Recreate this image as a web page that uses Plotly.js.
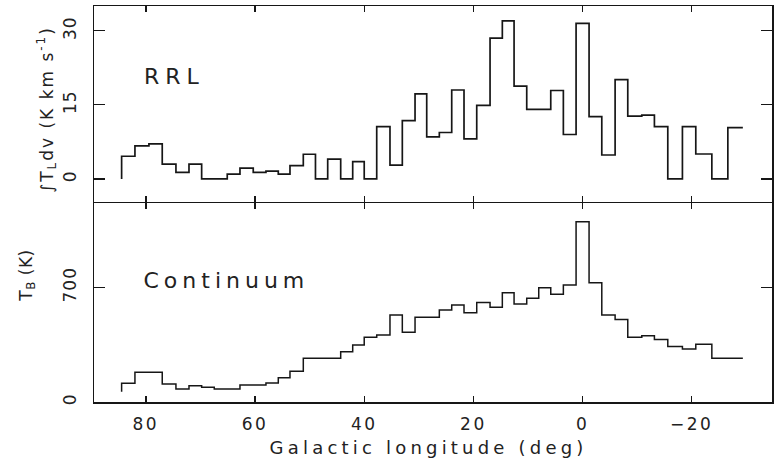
<!DOCTYPE html>
<html>
<head>
<meta charset="utf-8">
<script src="https://cdn.plot.ly/plotly-3.0.1.min.js"></script>
<style>
  html, body { margin: 0; padding: 0; background: #fff; }
  #chart { width: 779px; height: 467px; }
  .xtick text { letter-spacing: 2.5px; }
  .ytick text, .y2tick text { letter-spacing: 1px; }
  .annotation[data-index="0"] text { letter-spacing: 6px; }
  .annotation[data-index="1"] text { letter-spacing: 5px; }
  .annotation[data-index="2"] text { letter-spacing: 4.2px; }
  .annotation[data-index="3"] text { letter-spacing: 2px; }
  .annotation[data-index="4"] text { letter-spacing: 0.5px; }
</style>
</head>
<body>
<div id="chart"></div>
<script>
// Galactic longitude bin edges (deg), running from high to low longitude
const binEdges = [84.44, 82.0, 79.44, 77.0, 74.49, 72.1, 69.78, 67.47, 65.09, 62.76,
  60.33, 58.0, 55.74, 53.6, 51.16, 48.93, 46.69, 44.31, 42.11, 40.0,
  37.71, 35.28, 33.02, 30.69, 28.55, 26.24, 23.97, 21.72, 19.39, 16.95,
  14.7, 12.55, 10.23, 8.03, 5.83, 3.52, 1.19, -1.19, -3.52, -5.96,
  -8.28, -10.85, -13.16, -15.61, -18.29, -20.74, -23.68, -26.61, -29.36];

// Integrated recombination-line intensity per bin (K km s^-1)
const rrlValues = [4.6, 6.7, 7.1, 3.0, 1.35, 3.0, 0, 0, 1.0, 2.2,
  1.35, 1.6, 1.0, 2.7, 5.0, 0, 4.0, 0, 3.5, 0,
  10.6, 2.8, 11.8, 17.2, 8.5, 9.4, 18.0, 8.1, 14.9, 28.5,
  32.0, 18.8, 14.1, 14.1, 17.9, 9.0, 31.5, 12.6, 4.85, 20.1,
  12.7, 12.9, 10.6, 0, 10.6, 5.05, 0, 10.4];

// Continuum brightness temperature per bin (K)
const contValues = [114, 181, 181, 110, 79, 99, 90, 79, 79, 104,
  104, 116, 148, 187, 267, 267, 267, 307, 348, 395,
  409, 531, 425, 517, 517, 561, 592, 545, 608, 578,
  667, 598, 633, 698, 657, 714, 1100, 728, 531, 504,
  395, 405, 382, 338, 323, 352, 267, 267];

// Level each histogram starts from at its first edge
const rrlStart = 0;
const contStart = 62;

const xTicks = [80, 60, 40, 20, 0, -20];
const rrlTicks = [0, 15, 30];
const contTicks = [0, 700];

// Build step outlines: start level, then one step per bin, closing at the last edge
function stepTrace(start, values) {
  const x = [binEdges[0]].concat(binEdges);
  const y = [start].concat(values, [values[values.length - 1]]);
  return { x, y };
}

const ink = '#161616';
const fontFam = 'DejaVu Sans, Liberation Sans, sans-serif';

const rrlStep = stepTrace(rrlStart, rrlValues);
const contStep = stepTrace(contStart, contValues);

const traces = [
  {
    x: rrlStep.x, y: rrlStep.y, xaxis: 'x2', yaxis: 'y2',
    type: 'scatter', mode: 'lines',
    line: { shape: 'hv', color: ink, width: 1.7 },
    hoverinfo: 'skip', showlegend: false
  },
  {
    x: contStep.x, y: contStep.y, xaxis: 'x', yaxis: 'y',
    type: 'scatter', mode: 'lines',
    line: { shape: 'hv', color: ink, width: 1.5 },
    hoverinfo: 'skip', showlegend: false
  }
];

const xCommon = {
  range: [89.5, -34.7],
  tickvals: xTicks,
  ticks: 'inside', ticklen: 6, tickwidth: 1.3, tickcolor: ink,
  showline: true, linecolor: ink, linewidth: 1.5, mirror: 'ticks',
  showgrid: false, zeroline: false
};
const yCommon = {
  ticks: 'inside', ticklen: 11, tickwidth: 1.3, tickcolor: ink,
  showline: true, linecolor: ink, linewidth: 1.5, mirror: 'ticks',
  showgrid: false, zeroline: false,
  tickangle: -90, ticklabelstandoff: 10,
  tickfont: { family: fontFam, size: 17, color: '#222' }
};

// The two panels share one divider: the upper panel sits one line-width higher
// so its bottom axis line lands on the lower panel's top axis line.
const split = 0.5025;
const lineGap = 1.5 / 396;

const layout = {
  width: 779, height: 467,
  margin: { l: 94, r: 7, t: 6, b: 65 },
  paper_bgcolor: '#fff', plot_bgcolor: '#fff',
  font: { family: fontFam, color: '#222' },
  xaxis: Object.assign({}, xCommon, {
    domain: [0, 1], anchor: 'y',
    ticklabelstandoff: 6,
    tickfont: { family: fontFam, size: 17, color: '#222' }
  }),
  xaxis2: Object.assign({}, xCommon, {
    domain: [0, 1], anchor: 'y2', matches: 'x', showticklabels: false
  }),
  yaxis: Object.assign({}, yCommon, {
    domain: [0, split], range: [0, 1214.5], tickvals: contTicks
  }),
  yaxis2: Object.assign({}, yCommon, {
    domain: [split + lineGap, 1], range: [-4.56, 35], tickvals: rrlTicks
  }),
  annotations: [
    { text: 'RRL', xref: 'x2', yref: 'y2', x: 74.6, y: 20.8,
      showarrow: false, xanchor: 'center', yanchor: 'middle',
      font: { family: fontFam, size: 22, color: '#222' } },
    { text: 'Continuum', xref: 'x', yref: 'y', x: 65.3, y: 744,
      showarrow: false, xanchor: 'center', yanchor: 'middle',
      font: { family: fontFam, size: 22, color: '#222' } },
    { text: 'Galactic longitude (deg)', xref: 'paper', yref: 'paper',
      x: 0.494, y: -0.114, showarrow: false, xanchor: 'center', yanchor: 'middle',
      font: { family: fontFam, size: 18, color: '#222' } },
    { text: '\u222BT<sub>L</sub>dv (K km s<sup>-1</sup>)', xref: 'paper', yref: 'paper',
      x: -0.07, y: 0.737, textangle: -90, showarrow: false,
      xanchor: 'center', yanchor: 'middle',
      font: { family: fontFam, size: 17, color: '#222' } },
    { text: 'T<sub>B</sub> (K)', xref: 'paper', yref: 'paper',
      x: -0.099, y: 0.32, textangle: -90, showarrow: false,
      xanchor: 'center', yanchor: 'middle',
      font: { family: fontFam, size: 17, color: '#222' } }
  ]
};

Plotly.newPlot('chart', traces, layout, { staticPlot: true, displayModeBar: false });
</script>
</body>
</html>
